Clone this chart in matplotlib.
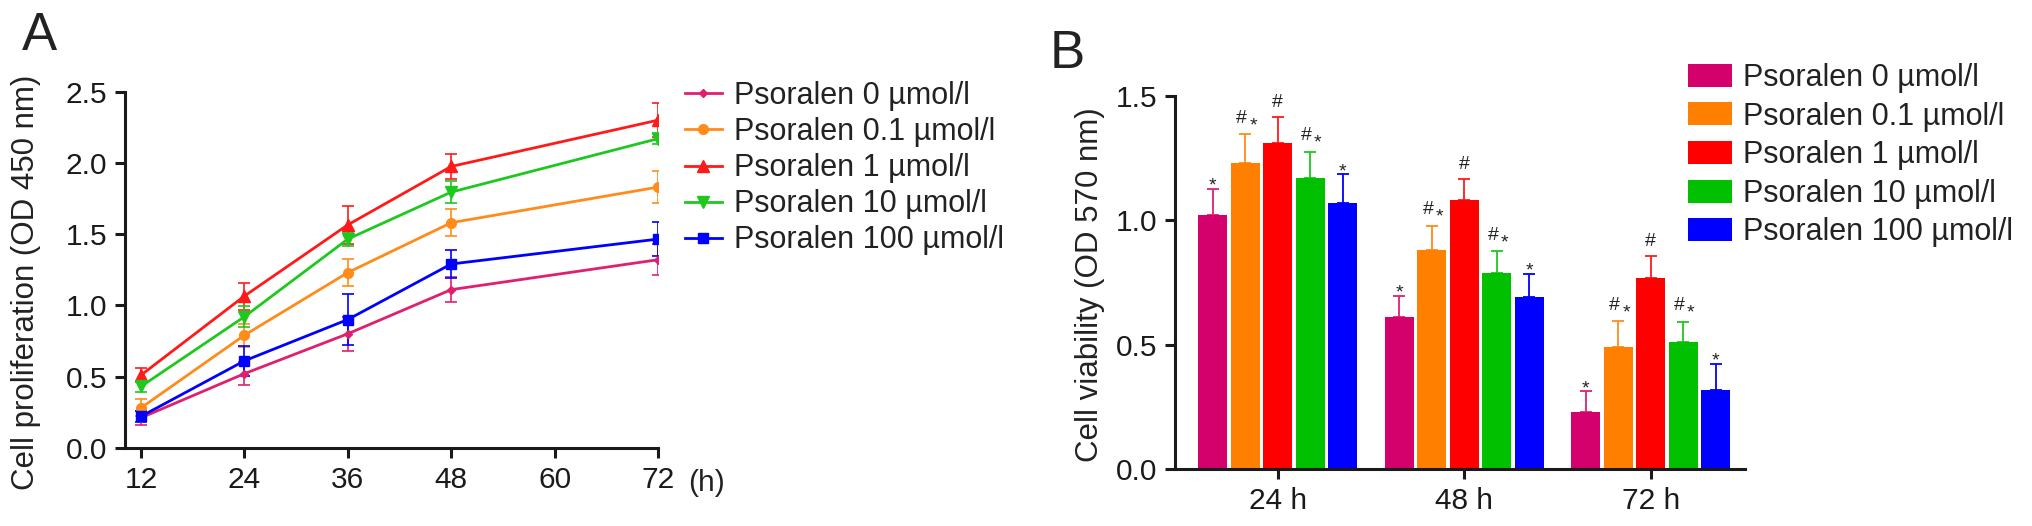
import numpy as np
import matplotlib.pyplot as plt
from matplotlib.ticker import FormatStrFormatter

plt.rcParams['font.family'] = ['Liberation Sans', 'DejaVu Sans']
plt.rcParams['text.color'] = '#222222'
plt.rcParams['axes.edgecolor'] = '#1a1a1a'
plt.rcParams['xtick.color'] = '#1a1a1a'
plt.rcParams['ytick.color'] = '#1a1a1a'

# series labels and colours
doses = ['Psoralen 0 µmol/l', 'Psoralen 0.1 µmol/l', 'Psoralen 1 µmol/l',
         'Psoralen 10 µmol/l', 'Psoralen 100 µmol/l']
bar_colors = ['#D4006C', '#FF8000', '#FF0000', '#00C000', '#0000FF']
line_colors = ['#E0206E', '#FF8C1A', '#FF1A1A', '#1EC81E', '#0000FF']
markers = ['D', 'o', '^', 'v', 's']
msizes = [4, 7, 8, 8, 7]

# panel A: CCK-8 proliferation, OD 450 nm
hours = [12, 24, 36, 48, 72]
prolif_0 = [0.21, 0.52, 0.80, 1.11, 1.32]
prolif_01 = [0.28, 0.79, 1.23, 1.58, 1.83]
prolif_1 = [0.51, 1.065, 1.565, 1.975, 2.30]
prolif_10 = [0.43, 0.92, 1.465, 1.795, 2.17]
prolif_100 = [0.22, 0.61, 0.90, 1.29, 1.465]
prolif_err_0 = [0.05, 0.08, 0.12, 0.09, 0.11]
prolif_err_01 = [0.06, 0.08, 0.095, 0.095, 0.115]
prolif_err_1 = [0.05, 0.095, 0.135, 0.09, 0.12]
prolif_err_10 = [0.04, 0.075, 0.05, 0.08, 0.04]
prolif_err_100 = [0.04, 0.105, 0.18, 0.095, 0.12]

# panel B: MTT viability, OD 570 nm
groups = ['24 h', '48 h', '72 h']
viab_0 = [1.02, 0.61, 0.23]
viab_01 = [1.23, 0.88, 0.49]
viab_1 = [1.31, 1.08, 0.77]
viab_10 = [1.17, 0.79, 0.51]
viab_100 = [1.07, 0.69, 0.32]
viab_err_0 = [0.105, 0.085, 0.083]
viab_err_01 = [0.115, 0.098, 0.104]
viab_err_1 = [0.105, 0.085, 0.086]
viab_err_10 = [0.105, 0.086, 0.083]
viab_err_100 = [0.114, 0.095, 0.104]
sig = ['*', '#*', '#', '#*', '*']

prolif = [prolif_0, prolif_01, prolif_1, prolif_10, prolif_100]
prolif_err = [prolif_err_0, prolif_err_01, prolif_err_1, prolif_err_10, prolif_err_100]
viab = [viab_0, viab_01, viab_1, viab_10, viab_100]
viab_err = [viab_err_0, viab_err_01, viab_err_1, viab_err_10, viab_err_100]

W, H = 2032, 526
fig = plt.figure(figsize=(W / 100, H / 100), dpi=100)


def px_axes(left, top, right, bottom):
    return fig.add_axes([left / W, 1 - bottom / H, (right - left) / W, (bottom - top) / H])


def style(ax):
    for s in ['top', 'right']:
        ax.spines[s].set_visible(False)
    for s in ['left', 'bottom']:
        ax.spines[s].set_linewidth(2.2)
    ax.tick_params(direction='out', length=7, width=2.2, labelsize=21.5, pad=6)


# ---- A ----
axA = px_axes(125, 91.7, 658, 447.7)
style(axA)
for i in range(5):
    axA.errorbar(hours, prolif[i], yerr=prolif_err[i], fmt='none', ecolor=line_colors[i],
                 elinewidth=1.2, capsize=4, capthick=1.2, zorder=2)
    axA.plot(hours, prolif[i], color=line_colors[i], lw=2, marker=markers[i],
             ms=msizes[i], label=doses[i], zorder=3)
axA.set_xlim(10.14, 72)
axA.set_ylim(0, 2.5)
axA.set_xticks([12, 24, 36, 48, 60, 72])
axA.set_yticks(np.arange(0, 2.51, 0.5))
axA.yaxis.set_major_formatter(FormatStrFormatter('%.1f'))
fig.text(26 / W, 1 - 282 / H, 'Cell proliferation (OD 450 nm)', rotation=90,
         ha='center', va='center', fontsize=22.5)
fig.text(688 / W, 1 - 483 / H, '(h)', ha='left', va='center', fontsize=21.5)
axA.legend(loc='upper left', bbox_to_anchor=(685 / W, 1 - 81 / H),
           bbox_transform=fig.transFigure, frameon=False, fontsize=22,
           handlelength=1.2, handletextpad=0.42, labelspacing=0.2,
           borderpad=0, borderaxespad=0)
fig.text(22 / W, 1 - 50 / H, 'A', fontsize=38, ha='left', va='baseline')

# ---- B ----
axB = px_axes(1175, 95.7, 1745, 469.3)
style(axB)
x = np.arange(len(groups))
pitch = 0.174
for i in range(5):
    xs = x + (i - 2) * pitch
    axB.bar(xs, viab[i], width=0.155, color=bar_colors[i], label=doses[i], zorder=2)
    axB.errorbar(xs, viab[i], yerr=[np.zeros(3), viab_err[i]], fmt='none',
                 ecolor=line_colors[i], elinewidth=1.3, capsize=4.5, capthick=1.3, zorder=1)
    for j in range(3):
        top = viab[i][j] + viab_err[i][j]
        s = sig[i]
        if s == '*':
            axB.annotate('*', (xs[j], top), xytext=(0, -1.2), textcoords='offset points',
                         ha='center', va='baseline', fontsize=14)
        elif s == '#':
            axB.annotate('#', (xs[j], top), xytext=(0, 7.2), textcoords='offset points',
                         ha='center', va='baseline', fontsize=14)
        else:
            axB.annotate('#', (xs[j], top), xytext=(-2.5, 8.2), textcoords='offset points',
                         ha='center', va='baseline', fontsize=14)
            axB.annotate('*', (xs[j], top), xytext=(5.6, 2.8), textcoords='offset points',
                         ha='center', va='baseline', fontsize=14)
axB.set_xlim(-0.551, 2.506)
axB.set_ylim(0, 1.5)
axB.set_xticks(x)
axB.set_xticklabels(groups)
axB.set_yticks([0, 0.5, 1.0, 1.5])
axB.yaxis.set_major_formatter(FormatStrFormatter('%.1f'))
fig.text(1090 / W, 1 - 284.5 / H, 'Cell viability (OD 570 nm)', rotation=90,
         ha='center', va='center', fontsize=22.5)
axB.legend(loc='upper left', bbox_to_anchor=(1687.6 / W, 1 - 63 / H),
           bbox_transform=fig.transFigure, frameon=False, fontsize=22,
           handlelength=1.45, handleheight=0.78, handletextpad=0.36, labelspacing=0.28,
           borderpad=0, borderaxespad=0)
fig.text(1050 / W, 1 - 68 / H, 'B', fontsize=38, ha='left', va='baseline')

fig.savefig('out.png', dpi=100)
